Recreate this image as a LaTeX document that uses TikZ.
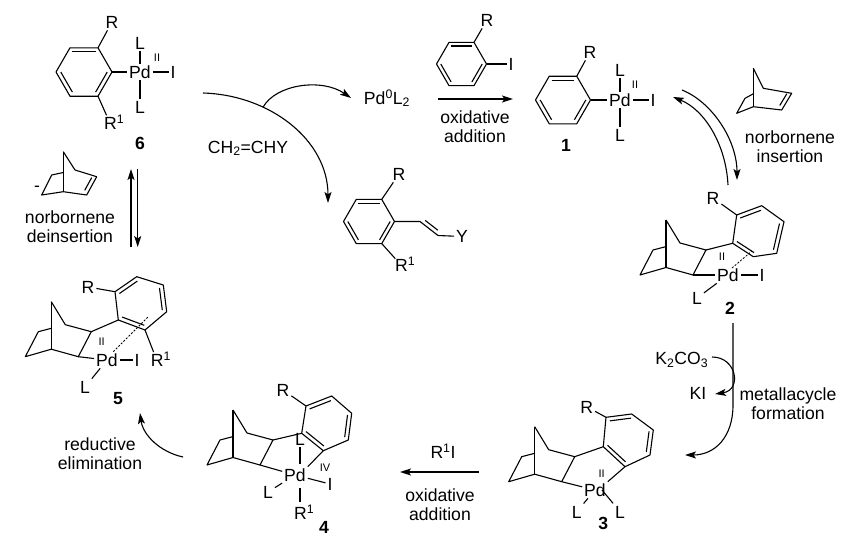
\documentclass[tikz,border=0pt]{standalone}
\usepackage{fontspec}
\setmainfont{Liberation Sans}
\usetikzlibrary{arrows.meta,calc}
% benzene ring: name, centre, six corners (double bonds on 1-2, 3-4, 5-6)
\newcommand{\arene}[8]{%
  \coordinate (#1-0) at (#2);
  \coordinate (#1-1) at (#3); \coordinate (#1-2) at (#4); \coordinate (#1-3) at (#5);
  \coordinate (#1-4) at (#6); \coordinate (#1-5) at (#7); \coordinate (#1-6) at (#8);
  \draw (#1-1) -- (#1-2) -- (#1-3) -- (#1-4) -- (#1-5) -- (#1-6) -- cycle;
  \foreach \p/\q in {1/2,3/4,5/6}
    \draw ($(#1-\p)!0.17!(#1-0)$) -- ($(#1-\q)!0.17!(#1-0)$);}
% norbornane skeleton placed at its Pd-bearing carbon
\newcommand{\nbane}[2]{%
  \begin{scope}[shift={(#2)}]
  \coordinate (#1-c3) at (0,0); \coordinate (#1-c2) at (13,-25);
  \draw (-27,-55) -- (-13,-32) -- (#1-c2) -- (#1-c3) -- (-27,-7.5) -- (-53,0) -- (-40,-25) -- (-27,-28.4);
  \draw (-27,-55) -- (-27,-7.5);
  \end{scope}}
\tikzset{
  atom/.style={inner sep=1.5pt, text height=12.6pt, text depth=0pt},
  lbl/.style={atom, font=\fontsize{17.6}{19}\selectfont\bfseries},
  ox/.style={inner sep=0pt, font=\fontsize{11}{11}\selectfont},
  txt/.style={align=center, inner sep=0pt},
  arr/.style={-{Stealth[length=11pt,width=7pt,inset=2.5pt]}},
  hashbond/.style={line width=0.8pt, dash pattern=on 2pt off 1.6pt},
}
\begin{document}
\begin{tikzpicture}[x=1pt, y=-1pt, line width=1.1pt, line join=round,
  every node/.style={font=\fontsize{17.6}{19}\selectfont}]
\useasboundingbox (0,0) rectangle (855,546);
% Compound 6
\arene{ar6}{84,72}{70,47.8}{98,47.8}{112,72}{98,96.2}{70,96.2}{56,72}
\node[atom] (r6) at (112,22) {R};
\coordinate (rc6) at (110,123);
\node[atom,anchor=west] (rr6) at ($(rc6)+(-7.85,0)$) {R\textsuperscript{1}};
\node[atom] (pd6) at (140,72) {Pd};
\node[atom] (i6) at (173,72) {I};
\node[atom] (lt6) at (140,43) {L};
\node[atom] (lb6) at (140,107) {L};
\node[ox] (ox6) at (157,58) {II};
\node[lbl] (n6) at (140,143) {6};
\draw (ar6-2) -- (r6);
\draw[shorten >=8.5pt] (ar6-4) -- (rc6);
\draw (ar6-3) -- (pd6);
\draw (pd6) -- (i6);
\draw (pd6) -- (lt6);
\draw (pd6) -- (lb6);
% Compound 1 and iodoarene
\arene{ari}{461.5,64}{449,42.35}{474,42.35}{486.5,64}{474,85.65}{449,85.65}{436.5,64}
\node[atom] (ri) at (487,20) {R};
\node[atom] (ii) at (511,64) {I};
\draw (ari-2) -- (ri);
\draw (ari-3) -- (ii);
\arene{ar1}{563,100}{549.25,76.2}{576.75,76.2}{590.5,100}{576.75,123.8}{549.25,123.8}{535.5,100}
\node[atom] (r1) at (590,52) {R};
\node[atom] (pd1) at (620,100) {Pd};
\node[atom] (i1) at (653,100) {I};
\node[atom] (lt1) at (620,70) {L};
\node[atom] (lb1) at (620,135) {L};
\node[ox] (ox1) at (635,85) {II};
\node[lbl] (n1) at (566,145) {1};
\draw (ar1-2) -- (r1);
\draw (ar1-3) -- (pd1);
\draw (pd1) -- (i1);
\draw (pd1) -- (lt1);
\draw (pd1) -- (lb1);
% Heck product
\arene{ars}{369,221.5}{356.25,199.4}{381.75,199.4}{394.5,221.5}{381.75,243.6}{356.25,243.6}{343.5,221.5}
\node[atom] (rs) at (399,174) {R};
\coordinate (rcs) at (401,265);
\node[atom,anchor=west] (rrs) at ($(rcs)+(-7.85,0)$) {R\textsuperscript{1}};
\node[atom] (ys) at (462,236.5) {Y};
\coordinate (v1) at (420,221.5);
\coordinate (v2) at (438,235.5);
\draw (ars-2) -- (rs);
\draw[shorten >=8.5pt] (ars-4) -- (rcs);
\draw (ars-3) -- (v1) -- (v2) -- (ys);
\draw (425.2,220.4) -- (437.8,230.2);
% Compound 2
\nbane{nb2}{693,275}
\arene{ar2}{757.5,232.6}{736.7,215}{761.7,205.7}{784,221.7}{776.7,253.3}{753.3,256.7}{732.7,243.3}
\node[atom] (r2) at (713,198) {R};
\node[atom] (pd2) at (728,275) {Pd};
\node[atom] (i2) at (762,275) {I};
\node[atom] (l2) at (697,298) {L};
\node[ox] (ox2) at (722,257) {II};
\node[lbl] (n2) at (730,308) {2};
\draw (nb2-c2) -- (ar2-6);
\draw (ar2-1) -- (r2);
\draw (nb2-c3) -- (pd2);
\draw (pd2) -- (i2);
\draw (pd2) -- (l2);
\draw[hashbond] (732,268) -- (752,251);
% Compound 3
\nbane{nb3}{561.7,481.7}
\arene{ar3}{628.2,438.3}{606,417.3}{631.7,414}{653.3,430}{650,455}{625,466.7}{603.3,446.7}
\node[atom] (r3) at (586.7,406.7) {R};
\node[atom] (pd3) at (595,490) {Pd};
\node[atom] (ll3) at (576.7,511.7) {L};
\node[atom] (lr3) at (620,511.7) {L};
\node[ox] (ox3) at (601.7,473.3) {II};
\node[lbl] (n3) at (603.3,523) {3};
\draw (nb3-c2) -- (ar3-6);
\draw (ar3-1) -- (r3);
\draw (nb3-c3) -- (pd3);
\draw (pd3.north east) -- (ar3-5);
\draw (pd3) -- (ll3);
\draw ([xshift=7pt]pd3.center) -- (lr3);
% Compound 4
\nbane{nb4}{260,465}
\arene{ar4}{327.1,423.2}{306,406}{331.7,396}{351.7,413.3}{348.3,440}{323.3,450.7}{301.7,433.3}
\node[atom] (r4) at (283,390) {R};
\node[atom] (pd4) at (295,475) {Pd};
\node[atom] (lt4) at (300,439) {L};
\node[atom] (ll4) at (268,492) {L};
\node[atom] (i4) at (330,484) {I};
\node[ox] (ox4) at (325,468) {IV};
\coordinate (rc4) at (300,513);
\node[atom,anchor=west] (rr4) at ($(rc4)+(-7.85,0)$) {R\textsuperscript{1}};
\node[lbl] (n4) at (324,527) {4};
\draw (nb4-c2) -- (ar4-6);
\draw (ar4-1) -- (r4);
\draw (nb4-c3) -- (pd4);
\draw (pd4.north east) -- (ar4-5);
\draw[shorten >=3pt] (lt4) -- (lt4 |- pd4.north);
\draw (pd4) -- (ll4);
\draw (pd4) -- (i4);
\draw[shorten <=5pt, shorten >=11pt] (pd4.south -| rc4) -- (rc4);
% Compound 5
\nbane{nb5}{78.3,356.7}
\arene{ar5}{140.8,302.5}{115,291.7}{136.7,276.7}{163.3,285}{166.7,311.7}{145,330}{118.3,320}
\node[atom] (r5) at (88,287) {R};
\node[atom] (pd5) at (107,360) {Pd};
\node[atom] (i5) at (137,360) {I};
\coordinate (rc5) at (156.7,360);
\node[atom,anchor=west] (rr5) at ($(rc5)+(-7.85,0)$) {R\textsuperscript{1}};
\node[atom] (l5) at (85,387) {L};
\node[ox] (ox5) at (101.7,341.7) {II};
\node[lbl] (n5) at (118,398) {5};
\draw (nb5-c2) -- (ar5-6);
\draw (ar5-1) -- (r5);
\draw (nb5-c3) -- (pd5);
\draw (pd5) -- (i5);
\draw (pd5) -- (l5);
\draw[shorten >=8.5pt] (ar5-5) -- (rc5);
\draw[hashbond] (113.3,351.7) -- (148.3,316.7);
% norbornene molecules
\draw (753.3,68.3) -- (763.3,88.3) -- (791.7,93.3) -- (781.7,110) -- (753.3,106.7) -- (736.7,113.3) -- (745,98.3) -- (753.3,93.8);
\draw (753.3,68.3) -- (753.3,106.7);
\draw (786.8,93.75) -- (779.8,105.45);
\draw (63.3,151.7) -- (75,170) -- (96.7,176.7) -- (86.7,195) -- (63.3,191.7) -- (41.7,195) -- (51.7,175) -- (63.3,172.5);
\draw (63.3,151.7) -- (63.3,191.7);
\draw (91.7,177.55) -- (84.7,190.35);
\node[inner sep=0pt] (minus) at (37,189) {-};
% reagents and step labels
\node[atom] (pdz) at (387,98) {Pd\textsuperscript{0}L\textsubscript{2}};
\node[atom] (ene) at (248,147) {CH\textsubscript{2}=CHY};
\node[atom] (kco) at (681.7,358.3) {K\textsubscript{2}CO\textsubscript{3}};
\node[atom] (ki) at (698,393.3) {KI};
\node[atom] (rone) at (443,452) {R\textsuperscript{1}I};
\node[txt] (oa1) at (475,126.5) {oxidative\\addition};
\node[txt] (ins) at (790,146.7) {norbornene\\insertion};
\node[txt] (mc) at (788,404) {metallacycle\\formation};
\node[txt] (oa2) at (440,505) {oxidative\\addition};
\node[txt] (re) at (100,453.3) {reductive\\elimination};
\node[txt] (des) at (70,226.7) {norbornene\\deinsertion};
% arrows
\coordinate (h6) at (203,93);
\coordinate (hp) at (328,203);
\coordinate (pzin) at (351,98);
\draw[arr] (h6) .. controls (270,95) and (328,140) .. coordinate[pos=0.32] (hb) (hp);
\draw[arr] (hb) .. controls (276,84) and (322,78) .. (pzin);
\coordinate (oaa) at (438,99);
\coordinate (oab) at (513,99);
\draw[arr] (oaa) -- (oab);
\coordinate (eqa) at (682,90);
\coordinate (eqb) at (737,180);
\coordinate (eqc) at (728,185);
\coordinate (eqd) at (673,97);
\draw[arr] (eqa) .. controls (712,102) and (737,140) .. (eqb);
\draw[arr] (eqc) .. controls (726,145) and (705,110) .. (eqd);
\coordinate (mca) at (733,323);
\coordinate (mcb) at (733,405);
\coordinate (mcc) at (685,455);
\draw[arr] (mca) -- (mcb) .. controls (733,437) and (715,455) .. (mcc);
\coordinate (kca) at (712,357);
\coordinate (kcb) at (715,394);
\draw[arr] (kca) .. controls (737,357) and (742,390) .. (kcb);
\coordinate (oba) at (479,472);
\coordinate (obb) at (400,472);
\draw[arr] (oba) -- (obb);
\coordinate (rea) at (183,457);
\coordinate (reb) at (140,413);
\draw[arr] (rea) .. controls (160,452) and (143,435) .. (reb);
\coordinate (dea) at (131,247);
\coordinate (deb) at (131,169);
\coordinate (dec) at (137.7,169);
\coordinate (ded) at (137.7,247);
\draw[arr] (dea) -- (deb);
\draw[arr] (dec) -- (ded);
\end{tikzpicture}
\end{document}
